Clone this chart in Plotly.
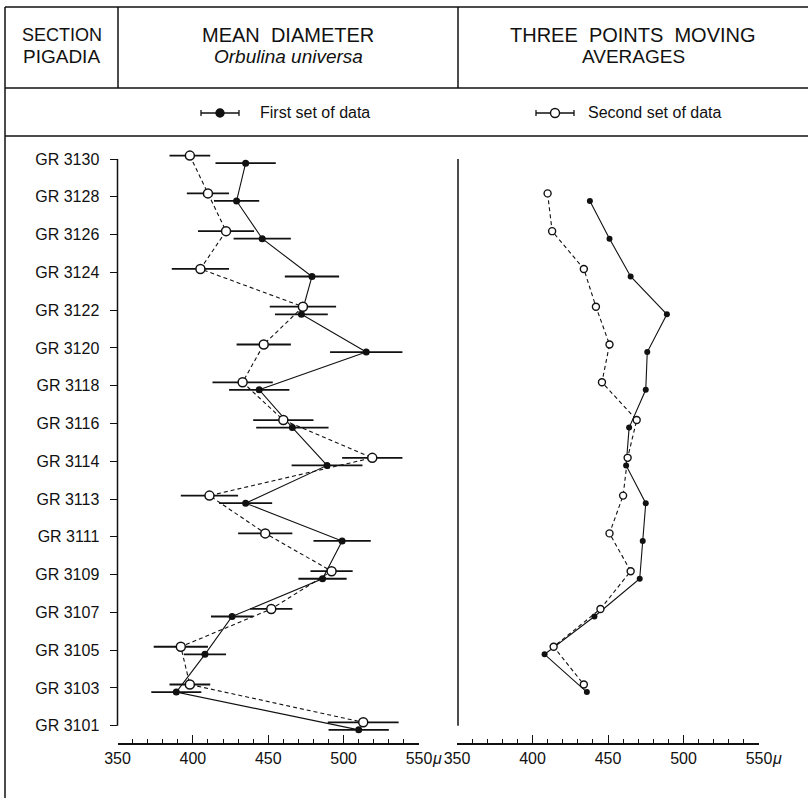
import plotly.graph_objects as go

# ---------------- data ----------------
levels = ["GR 3130", "GR 3128", "GR 3126", "GR 3124", "GR 3122", "GR 3120", "GR 3118",
          "GR 3116", "GR 3114", "GR 3113", "GR 3111", "GR 3109", "GR 3107", "GR 3105",
          "GR 3103", "GR 3101"]

first_mean = [435, 429, 446, 479, 472, 515, 444, 466, 489, 435, 499, 486, 426, 408, 389, 510]
first_err = [20, 15, 19, 18, 17.5, 24, 20, 24, 23.5, 17.6, 19, 16, 14, 14, 16.6, 20]
second_mean = [398, 410, 422, 405, 473, 447, 433, 460, 519, 411, 448, 492, 452, 392, 398, 513]
second_err = [13.5, 14, 18.6, 19, 22, 18, 20, 20, 20, 19, 18, 14, 14, 18, 13.5, 23.5]

avg_levels = levels[1:-1]
first_avg = [438, 451, 465, 489, 476, 475, 464, 462, 475, 473, 471, 441, 408, 436]
second_avg = [410, 413, 434, 442, 451, 446, 469, 463, 460, 451, 465, 445, 414, 434]

x_ticks = [350, 400, 450, 500, 550]

# ---------------- geometry helpers ----------------
W, H = 808, 798
def px(x):
    return x / W
def py(y):
    return 1 - y / H

FONT = "Liberation Sans, Arial, sans-serif"
INK = "#111111"

n = len(levels)
idx = {lab: n - 1 - i for i, lab in enumerate(levels)}  # GR 3101 -> 0 ... GR 3130 -> 15
OFF_OPEN, OFF_FILL = 0.09, -0.11

y_first = [idx[l] + OFF_FILL for l in levels]
y_second = [idx[l] + OFF_OPEN for l in levels]
y_first_avg = [idx[l] + OFF_FILL for l in avg_levels]
y_second_avg = [idx[l] + OFF_OPEN for l in avg_levels]

# y range so that level 0 sits at 725.7 px and level 15 at 159 px
step = (725.7 - 159) / (n - 1)
y_bot_px, y_top_px = 743, 145
y_range = [(725.7 - y_bot_px) / step, (725.7 - y_top_px) / step]

fig = go.Figure()

# ---- left panel: means with error bars ----
fig.add_trace(go.Scatter(
    x=first_mean, y=y_first, xaxis="x", yaxis="y", mode="lines+markers",
    line=dict(color=INK, width=1.1),
    marker=dict(symbol="circle", size=7, color=INK),
    error_x=dict(type="data", array=first_err, visible=True, color=INK, thickness=1.8, width=0),
    showlegend=False, cliponaxis=False))
fig.add_trace(go.Scatter(
    x=second_mean, y=y_second, xaxis="x", yaxis="y", mode="lines+markers",
    line=dict(color=INK, width=1.1, dash="4px,3px"),
    marker=dict(symbol="circle", size=9, color="white", line=dict(color=INK, width=1.5)),
    error_x=dict(type="data", array=second_err, visible=True, color=INK, thickness=1.8, width=0),
    showlegend=False, cliponaxis=False))

# ---- right panel: three points moving averages ----
fig.add_trace(go.Scatter(
    x=first_avg, y=y_first_avg, xaxis="x2", yaxis="y", mode="lines+markers",
    line=dict(color=INK, width=1.1),
    marker=dict(symbol="circle", size=6, color=INK),
    showlegend=False, cliponaxis=False))
fig.add_trace(go.Scatter(
    x=second_avg, y=y_second_avg, xaxis="x2", yaxis="y", mode="lines+markers",
    line=dict(color=INK, width=1.1, dash="4px,3px"),
    marker=dict(symbol="circle", size=7, color="white", line=dict(color=INK, width=1.4)),
    showlegend=False, cliponaxis=False))

xaxis_common = dict(
    range=[350, 550], showgrid=False, zeroline=False, showline=True, linecolor=INK, linewidth=1.5,
    ticks="inside", ticklen=8, tickwidth=1.3, tickcolor=INK,
    tickvals=x_ticks, ticktext=[str(v) for v in x_ticks],
    tickfont=dict(family=FONT, size=16, color=INK), ticklabelstandoff=0,
    minor=dict(dtick=10, ticks="inside", ticklen=4, tickwidth=1, tickcolor=INK),
    anchor="y", fixedrange=True, automargin=False)

fig.update_layout(
    width=W, height=H, margin=dict(l=0, r=0, t=0, b=0, pad=0, autoexpand=False),
    paper_bgcolor="white", plot_bgcolor="white",
    xaxis=dict(domain=[px(117.5), px(419)], **xaxis_common),
    xaxis2=dict(domain=[px(457), px(759)], **xaxis_common),
    yaxis=dict(domain=[py(y_bot_px), py(y_top_px)], range=y_range, showgrid=False, zeroline=False,
               showline=False, tickvals=[idx[l] for l in levels], ticktext=levels,
               ticks="outside", ticklen=7, tickwidth=1.3, tickcolor=INK, ticklabelstandoff=7,
               tickfont=dict(family=FONT, size=16, color=INK), fixedrange=True, automargin=False),
)

shapes = []
def pline(x0, y0, x1, y1, w=1.5):
    shapes.append(dict(type="line", xref="paper", yref="paper", x0=px(x0), y0=py(y0),
                       x1=px(x1), y1=py(y1), line=dict(color=INK, width=w)))

# table frame
pline(5, 7, 808, 7)
pline(5, 88, 808, 88)
pline(5, 136, 808, 136)
pline(5, 7, 5, 798)
pline(118, 7, 118, 88)
pline(458, 7, 458, 88)

# y-axis spine (left) and separator line (right), from level 0 to level 15
for xpx in (117.5, 458):
    shapes.append(dict(type="line", xref="paper", yref="y", x0=px(xpx), x1=px(xpx),
                       y0=0, y1=n - 1, line=dict(color=INK, width=1.5)))

# legend symbols
def legend_symbol(cx, filled):
    ypos = 113
    pline(cx - 19, ypos, cx + 19, ypos, 1.5)
    pline(cx - 19, ypos - 3, cx - 19, ypos + 3, 1.3)
    pline(cx + 19, ypos - 3, cx + 19, ypos + 3, 1.3)
    r = 4 if filled else 4.5
    shapes.append(dict(type="circle", xref="paper", yref="paper",
                       x0=px(cx - r), x1=px(cx + r), y0=py(ypos + r), y1=py(ypos - r),
                       fillcolor=INK if filled else "white", line=dict(color=INK, width=1.4)))

legend_symbol(220, True)
legend_symbol(555, False)

fig.update_layout(shapes=shapes)

ann = []
def text(x, y, s, size=19, italic=False, anchor="center"):
    ann.append(dict(xref="paper", yref="paper", x=px(x), y=py(y), text=s, showarrow=False,
                    xanchor=anchor, yanchor="middle",
                    font=dict(family=FONT, size=size, color=INK,
                              style="italic" if italic else "normal")))

text(61.5, 35, "SECTION", size=18)
text(61.5, 57, "PIGADIA", size=19)
text(288, 35, "MEAN  DIAMETER", size=20)
text(288, 57, "Orbulina universa", size=19, italic=True)
text(633, 35, "THREE  POINTS  MOVING", size=20)
text(633, 57, "AVERAGES", size=19)
text(258, 113, "First set of data", size=16, anchor="left")
text(586, 113, "Second set of data", size=16, anchor="left")
text(437, 758, "μ", size=16, italic=True)
text(777, 758, "μ", size=16, italic=True)

fig.update_layout(annotations=ann)

fig.write_html("out.html")
